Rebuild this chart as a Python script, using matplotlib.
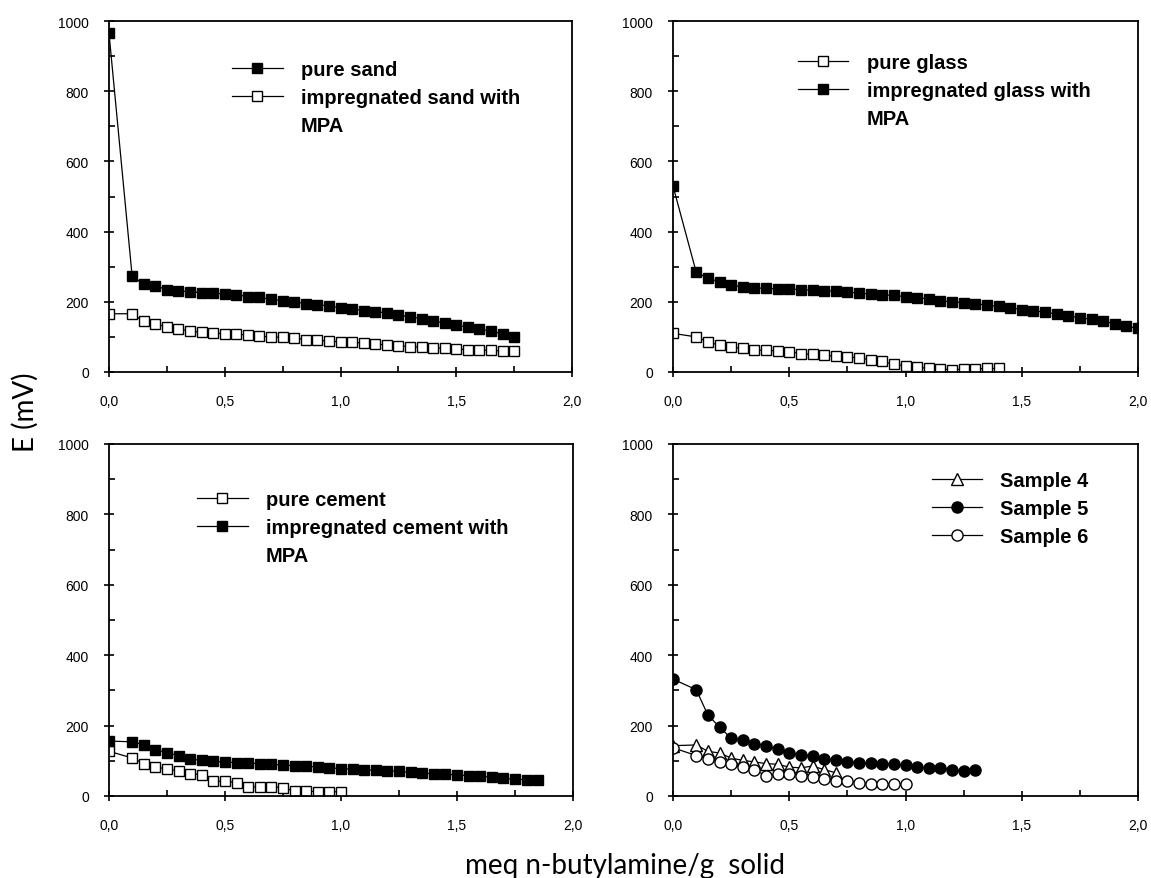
import numpy as np
import matplotlib
matplotlib.use('Agg')
import matplotlib.pyplot as plt
from matplotlib.lines import Line2D
from matplotlib.ticker import FuncFormatter, MultipleLocator

plt.rcParams['font.family'] = ['Liberation Sans', 'DejaVu Sans']

# ---- data ----
# sand panel
sand_x = [0.0] + [round(0.1 + 0.05 * i, 2) for i in range(34)]
pure_sand = [965, 273, 250, 245, 235, 232, 228, 226, 225, 222, 220, 215, 213, 207,
             203, 200, 195, 192, 188, 183, 179, 175, 172, 168, 162, 157, 152, 145,
             140, 133, 128, 122, 117, 108, 100]
impr_sand = [166, 166, 144, 138, 128, 122, 117, 113, 112, 108, 107, 106, 102, 100,
             99, 97, 92, 90, 88, 86, 85, 82, 80, 77, 75, 72, 71, 69, 67, 65, 64,
             63, 62, 60, 60]

# glass panel
glass_x = [0.0] + [round(0.1 + 0.05 * i, 2) for i in range(27)]
pure_glass = [110, 100, 86, 76, 71, 67, 62, 62, 60, 58, 52, 50, 48, 45, 43, 40,
              35, 30, 22, 18, 14, 10, 8, 7, 8, 9, 10, 10]
impr_glass_x = [0.0] + [round(0.1 + 0.05 * i, 2) for i in range(39)]
impr_glass = [530, 284, 267, 257, 248, 242, 240, 238, 237, 236, 235, 233, 232,
              230, 228, 225, 222, 220, 218, 215, 212, 208, 203, 200, 198, 195,
              190, 187, 183, 178, 175, 170, 165, 160, 155, 150, 144, 138, 131, 124]

# cement panel
cement_x = [0.0] + [round(0.1 + 0.05 * i, 2) for i in range(19)]
pure_cement = [127, 108, 92, 82, 77, 71, 63, 61, 42, 42, 38, 26, 26, 26, 24, 14,
               14, 12, 12, 12]
impr_cement_x = [0.0] + [round(0.1 + 0.05 * i, 2) for i in range(36)]
impr_cement = [156, 154, 146, 132, 123, 115, 104, 102, 99, 96, 95, 93, 92, 90,
               88, 86, 85, 82, 80, 78, 76, 75, 73, 72, 70, 67, 65, 63, 62, 60,
               58, 56, 53, 50, 48, 46, 45]

# samples panel
s4_x = [0.0] + [round(0.1 + 0.05 * i, 2) for i in range(13)]
sample4 = [143, 145, 127, 122, 108, 101, 97, 92, 90, 82, 80, 85, 75, 66]
s5_x = [0.0] + [round(0.1 + 0.05 * i, 2) for i in range(25)]
sample5 = [332, 302, 230, 196, 164, 158, 149, 142, 134, 123, 116, 113, 104, 102,
           97, 94, 94, 91, 90, 88, 82, 80, 80, 75, 71, 73]
s6_x = [0.0] + [round(0.1 + 0.05 * i, 2) for i in range(19)]
sample6 = [137, 115, 106, 96, 92, 83, 75, 57, 63, 63, 57, 55, 47, 42, 42, 38, 35,
           33, 35, 33]

W, H = 1151, 879
fig = plt.figure(figsize=(W / 100, H / 100), dpi=100)


def make_axes(x0, y_top, x1, y_bot):
    return fig.add_axes([x0 / W, 1 - y_bot / H, (x1 - x0) / W, (y_bot - y_top) / H])


comma = FuncFormatter(lambda v, p: f"{v:.1f}".replace('.', ','))


def style(ax):
    ax.set_xlim(0, 2.0)
    ax.set_ylim(0, 1000)
    ax.xaxis.set_major_locator(MultipleLocator(0.5))
    ax.xaxis.set_minor_locator(MultipleLocator(0.25))
    ax.yaxis.set_major_locator(MultipleLocator(200))
    ax.yaxis.set_minor_locator(MultipleLocator(100))
    ax.xaxis.set_major_formatter(comma)
    ax.tick_params(axis='both', which='major', direction='inout', length=7,
                   width=1.2, labelsize=10)
    ax.tick_params(axis='x', which='major', pad=12)
    ax.tick_params(axis='y', which='major', pad=11)
    ax.tick_params(axis='both', which='minor', direction='in', length=4, width=1.2)
    for sp in ax.spines.values():
        sp.set_linewidth(1.3)


sq_open = dict(marker='s', mfc='white', mec='black', ms=7, mew=1.0, color='black', lw=0.9)
sq_fill = dict(marker='s', mfc='black', mec='black', ms=7, mew=1.0, color='black', lw=0.9)


def blank():
    return Line2D([], [], linestyle='none')


def add_legend(ax, handles, labels, x, y):
    ax.legend(handles, labels, loc='upper left', bbox_to_anchor=(x, y),
              frameon=False, borderpad=0, borderaxespad=0, handlelength=2.5,
              handletextpad=0.9, labelspacing=0.45,
              prop=dict(weight='bold', size=14.5))


# top-left: sand
ax1 = make_axes(109, 22, 572, 373)
h1, = ax1.plot(sand_x, pure_sand, **sq_fill)
h2, = ax1.plot(sand_x, impr_sand, **sq_open)
style(ax1)
add_legend(ax1, [h1, h2, blank()], ['pure sand', 'impregnated sand with', 'MPA'], 0.266, 0.889)

# top-right: glass
ax2 = make_axes(673, 22, 1138, 373)
h1, = ax2.plot(glass_x, pure_glass, **sq_open)
h2, = ax2.plot(impr_glass_x, impr_glass, **sq_fill)
style(ax2)
add_legend(ax2, [h1, h2, blank()], ['pure glass', 'impregnated glass with', 'MPA'], 0.269, 0.909)

# bottom-left: cement
ax3 = make_axes(109, 445, 573, 797)
h1, = ax3.plot(cement_x, pure_cement, **sq_open)
h2, = ax3.plot(impr_cement_x, impr_cement, **sq_fill)
style(ax3)
add_legend(ax3, [h1, h2, blank()], ['pure cement', 'impregnated cement with', 'MPA'], 0.19, 0.869)

# bottom-right: samples
ax4 = make_axes(673, 445, 1138, 797)
h1, = ax4.plot(s4_x, sample4, marker='^', mfc='white', mec='black', ms=8, mew=1.0,
               color='black', lw=0.9)
h2, = ax4.plot(s5_x, sample5, marker='o', mfc='black', mec='black', ms=8, mew=1.0,
               color='black', lw=0.9)
h3, = ax4.plot(s6_x, sample6, marker='o', mfc='white', mec='black', ms=8, mew=1.0,
               color='black', lw=0.9)
style(ax4)
add_legend(ax4, [h1, h2, h3], ['Sample 4', 'Sample 5', 'Sample 6'], 0.557, 0.923)

fig.text(25 / W, 1 - 412 / H, 'E (mV)', rotation=90, ha='center', va='center',
         fontsize=20, family=['Lato', 'DejaVu Sans'])
fig.text(625 / W, 1 - 866 / H, 'meq n-butylamine/g  solid', ha='center', va='center',
         fontsize=20, family=['Lato', 'DejaVu Sans'])

fig.savefig('out.png', dpi=100, facecolor='white')
